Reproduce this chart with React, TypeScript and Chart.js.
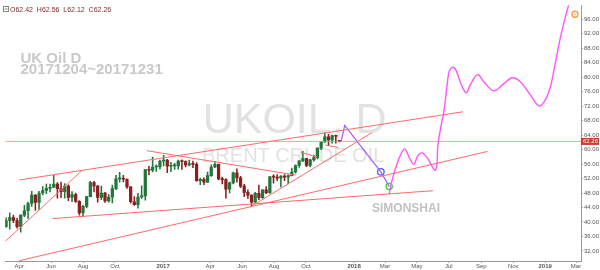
import React, { useEffect, useRef } from "react";
import { Chart, registerables } from "chart.js";
Chart.register(...registerables);

const FONT = "'Liberation Sans', Arial, sans-serif";
const DAY0 = Date.UTC(2016, 0, 1);
const day = (s: string) => (Date.parse(s + "T00:00:00Z") - DAY0) / 86400000;

// ---- Weekly candles (week starting 2016-03-07), last one is the 2017-12-04 daily bar
const firstWeek = "2016-03-07";
const opens = [
  38.7, 40.4, 41.2, 40.4, 38.7, 41.9, 43.1, 45.1, 47.4, 45.4, 48.0, 48.7, 49.3, 49.6, 50.5, 49.2, 48.4, 49.9,
  46.8, 47.6, 45.7, 42.5, 44.3, 47.0, 50.9, 49.9, 46.8, 48.0, 45.8, 46.9, 49.2, 51.9, 51.9, 51.8, 49.7, 45.6,
  44.8, 46.9, 47.2, 54.5, 54.3, 55.2, 55.2, 56.8, 57.1, 55.4, 55.5, 55.5, 56.8, 56.7, 55.8, 56.0, 55.9, 51.4,
  51.8, 51.0, 52.8, 55.2, 55.9, 51.9, 51.7, 49.1, 50.8, 53.6, 52.2, 49.9, 48.2, 47.4, 45.5, 47.9, 46.7, 48.9,
  48.1, 52.5, 52.4, 52.1, 52.7, 52.4, 52.8, 53.8, 55.6, 56.9, 57.5, 55.6, 57.2, 57.8, 60.4, 62.1, 63.5, 62.7,
  63.9, 62.42,
];
const highs = [
  41.2, 42.5, 41.9, 41.0, 42.0, 44.6, 45.5, 48.5, 47.6, 48.5, 49.8, 50.5, 50.5, 52.9, 50.9, 51.0, 50.6, 50.3,
  48.4, 48.0, 45.9, 44.6, 47.1, 51.2, 51.2, 50.1, 49.9, 48.2, 47.6, 50.2, 52.9, 53.7, 52.9, 51.9, 49.8, 47.0,
  47.9, 50.0, 54.5, 55.4, 57.9, 55.8, 57.1, 58.4, 57.3, 56.5, 56.2, 57.1, 57.2, 56.9, 57.1, 56.8, 56.4, 52.1,
  52.2, 53.8, 55.8, 56.7, 56.0, 52.4, 52.0, 51.0, 53.8, 54.7, 52.6, 50.4, 48.9, 47.5, 48.2, 50.2, 48.9, 49.8,
  52.6, 53.0, 53.1, 52.8, 53.1, 53.0, 54.9, 55.8, 57.0, 59.5, 57.6, 57.4, 58.5, 60.5, 62.2, 64.6, 64.2, 64.0,
  64.0, 62.56,
];
const lows = [
  38.5, 38.0, 39.8, 38.3, 37.2, 41.5, 41.0, 44.3, 43.2, 43.5, 47.5, 47.8, 48.3, 49.5, 46.6, 46.7, 46.6, 45.9,
  45.6, 45.4, 41.9, 41.5, 43.9, 46.9, 48.3, 45.5, 46.2, 45.4, 45.5, 45.3, 48.9, 51.0, 51.1, 49.3, 45.2, 44.6,
  43.8, 46.5, 46.0, 53.0, 53.8, 54.0, 54.6, 55.5, 53.6, 53.9, 54.5, 54.6, 54.5, 55.2, 55.5, 55.0, 51.2, 50.3,
  50.3, 50.9, 52.6, 55.0, 51.6, 50.5, 46.6, 48.0, 50.5, 51.0, 49.5, 47.0, 46.5, 44.4, 45.4, 46.2, 46.5, 47.8,
  47.9, 50.7, 51.4, 49.7, 51.4, 50.5, 52.7, 53.5, 55.1, 56.7, 55.3, 55.2, 56.8, 57.4, 60.0, 62.0, 61.1, 61.8,
  61.8, 62.12,
];
const closes = [
  40.4, 41.2, 40.4, 38.7, 41.9, 43.1, 45.1, 47.4, 45.4, 48.0, 48.7, 49.3, 49.6, 50.5, 49.2, 48.4, 49.9, 46.8,
  47.6, 45.7, 42.5, 44.3, 47.0, 50.9, 49.9, 46.8, 48.0, 45.8, 46.9, 49.2, 51.9, 51.9, 51.8, 49.7, 45.6, 44.8,
  46.9, 47.2, 54.5, 54.3, 55.2, 55.2, 56.8, 57.1, 55.4, 55.5, 55.5, 56.8, 56.7, 55.8, 56.0, 55.9, 51.4, 51.8,
  51.0, 52.8, 55.2, 55.9, 51.9, 51.7, 49.1, 50.8, 53.6, 52.2, 49.9, 48.2, 47.4, 45.5, 47.9, 46.7, 48.9, 48.1,
  52.5, 52.4, 52.1, 52.7, 52.4, 52.8, 53.8, 55.6, 56.9, 57.5, 55.6, 57.2, 57.8, 60.4, 62.1, 63.5, 62.7, 63.9,
  63.7, 62.26,
];

// ---- Axis ticks
const tickDates = [
  "2016-04-01", "2016-06-01", "2016-08-01", "2016-10-01", "2017-01-01", "2017-04-01", "2017-06-01",
  "2017-08-01", "2017-10-01", "2018-01-01", "2018-03-01", "2018-05-01", "2018-07-01", "2018-09-01",
  "2018-11-01", "2019-01-01", "2019-03-01",
];
const tickLabels = [
  "Apr", "Jun", "Aug", "Oct", "2017", "Apr", "Jun", "Aug", "Oct", "2018", "Mar", "May", "Jul", "Sep",
  "Nov", "2019", "Mar",
];
const priceTicks = [32, 36, 40, 44, 48, 52, 56, 60, 64, 68, 72, 76, 80, 84, 88, 92, 96];

// ---- Drawings
type P = [string, number];
const trendLines: P[][] = [
  [["2016-04-01", 51.6], ["2018-07-28", 70.45]],
  [["2016-04-01", 29.3], ["2018-09-13", 59.5]],
  [["2016-06-04", 40.94], ["2018-06-01", 48.65]],
  [["2016-03-05", 34.6], ["2016-07-29", 54.1]],
  [["2016-12-01", 59.7], ["2017-09-11", 52.96]],
  [["2017-06-16", 44.1], ["2018-02-04", 64.68]],
  [["2017-09-21", 59.26], ["2017-10-23", 57.9]],
  [["2017-11-07", 61.24], ["2017-12-02", 60.6]],
];
const purplePath: P[] = [
  ["2017-12-07", 62.15], ["2017-12-14", 66.66], ["2018-02-21", 53.85], ["2018-03-09", 49.79],
];
const magentaPath: P[] = [
  ["2018-03-09", 47.7], ["2018-03-13", 50.68], ["2018-03-23", 55.66], ["2018-04-02", 59.26],
  ["2018-04-08", 60.16], ["2018-04-16", 57.91], ["2018-04-25", 55.93], ["2018-05-03", 58.37],
  ["2018-05-11", 59.08], ["2018-05-22", 57.45], ["2018-06-04", 54.31], ["2018-06-08", 55.66],
  ["2018-06-10", 61.08], ["2018-06-16", 66.49], ["2018-06-22", 70.99], ["2018-06-28", 78.21],
  ["2018-07-02", 81.81], ["2018-07-09", 82.74], ["2018-07-15", 81.81], ["2018-07-24", 78.21],
  ["2018-08-03", 75.7], ["2018-08-12", 78.21], ["2018-08-25", 80.73], ["2018-09-06", 78.67],
  ["2018-09-25", 76.24], ["2018-10-14", 78.21], ["2018-10-30", 79.84], ["2018-11-15", 78.67],
  ["2018-12-04", 75.05], ["2018-12-20", 72.07], ["2019-01-01", 73.69], ["2019-01-11", 77.32],
  ["2019-01-20", 83.63], ["2019-01-30", 90.86], ["2019-02-08", 96.27], ["2019-02-16", 100.5],
];
const blueMark: P = ["2018-02-21", 53.85];
const greenMark: P = ["2018-03-09", 49.79];
const orangeMark: P = ["2019-02-27", 97.4];

const symbolTitle = "UKOIL, D";
const symbolSubtitle = "BRENT CRUDE OIL";
const noteTitle = "UK Oil D";
const notePeriod = "20171204~20171231";
const author = "SIMONSHAI";

const X_MIN = 64.5;
const X_MAX = 1164.5;
const Y_MIN = 29.22;
const Y_MAX = 99.87;

const UP = "#21773a";
const DOWN = "#8a1f1f";
const TREND = "#ff6a6a";

const pts = (arr: P[]) => arr.map(([d, v]) => ({ x: day(d), y: v }));

const watermarkPlugin = {
  id: "watermark",
  beforeDatasetsDraw(chart: any) {
    const { ctx, chartArea } = chart;
    const cx = (chartArea.left + chartArea.right) / 2;
    ctx.save();
    ctx.fillStyle = "#e2e2e2";
    ctx.textAlign = "center";
    ctx.textBaseline = "alphabetic";
    ctx.font = `43px ${FONT}`;
    ctx.fillText(symbolTitle, cx + 1.5, 133.3);
    ctx.font = `20px ${FONT}`;
    ctx.fillText(symbolSubtitle, cx, 161.7);
    ctx.textAlign = "left";
    ctx.fillStyle = "#c9c9c9";
    ctx.font = `bold 15px ${FONT}`;
    ctx.fillText(noteTitle, 20.5, 63.3);
    ctx.fillText(notePeriod, 20.5, 74.3);
    ctx.fillStyle = "#c2c2c2";
    ctx.font = `bold 12px ${FONT}`;
    ctx.fillText(author, 372, 211.7);
    ctx.restore();
  },
  afterDraw(chart: any) {
    const { ctx, scales } = chart;
    const last = closes.length - 1;
    ctx.save();
    // legend box icon
    ctx.strokeStyle = "#888";
    ctx.lineWidth = 1;
    ctx.strokeRect(3.5, 6.5, 5, 5);
    ctx.beginPath();
    ctx.moveTo(4.5, 9);
    ctx.lineTo(7.5, 9);
    ctx.stroke();
    ctx.fillStyle = "#7d2a2a";
    ctx.font = `7px ${FONT}`;
    ctx.textBaseline = "middle";
    ctx.textAlign = "left";
    const txt = `O${opens[last].toFixed(2)}  H${highs[last].toFixed(2)}  L${lows[last].toFixed(2)}  C${closes[last].toFixed(2)}`;
    ctx.fillText(txt, 10, 9.8);
    // last price label
    const y = scales.y.getPixelForValue(closes[last]);
    ctx.fillStyle = "#d3382e";
    ctx.fillRect(581, y - 3.5, 18, 7);
    ctx.fillStyle = "#fff";
    ctx.font = `6px ${FONT}`;
    ctx.fillText(closes[last].toFixed(2), 583, y + 0.3);
    ctx.restore();
  },
};

export default function App() {
  const ref = useRef<HTMLCanvasElement | null>(null);
  useEffect(() => {
    document.body.style.margin = "0";
    if (!ref.current) return;
    const xs = opens.map((_, i) => day(firstWeek) + 7 * i);
    const colors = opens.map((o, i) => (closes[i] >= o ? UP : DOWN));
    const last = closes.length - 1;
    const lineDs = (data: any[], color: string, width = 1, extra: any = {}) => ({
      type: "line",
      data,
      borderColor: color,
      borderWidth: width,
      pointRadius: 0,
      fill: false,
      tension: 0,
      order: 0,
      ...extra,
    });
    const markDs = (p: P, color: string, r: number) => ({
      type: "line",
      data: pts([p]),
      showLine: false,
      pointRadius: r,
      pointBorderColor: color,
      pointBackgroundColor: "rgba(0,0,0,0)",
      pointBorderWidth: 1.3,
      order: 0,
    });
    const chart = new Chart(ref.current, {
      type: "bar",
      data: {
        datasets: [
          {
            type: "bar",
            data: xs.map((x, i) => ({ x, y: [lows[i], highs[i]] })),
            backgroundColor: colors,
            barThickness: 0.9,
            grouped: false,
            borderWidth: 0,
            order: 11,
          } as any,
          {
            type: "bar",
            data: xs.map((x, i) => ({ x, y: [opens[i], closes[i]] })),
            backgroundColor: colors,
            barThickness: 2.6,
            grouped: false,
            borderWidth: 0,
            minBarLength: 1,
            order: 10,
          } as any,
          lineDs(
            [
              { x: X_MIN, y: closes[last] },
              { x: X_MAX, y: closes[last] },
            ],
            "rgba(232,130,130,0.75)",
            1
          ),
          ...trendLines.map((l) => lineDs(pts(l), TREND, 1)),
          lineDs(pts(purplePath), "#a05cff", 1.2),
          lineDs(pts(magentaPath), "#ff55ff", 1.4, { tension: 0.35 }),
          markDs(blueMark, "#4d5cff", 3.3),
          markDs(greenMark, "#2fdc2f", 3.1),
          markDs(orangeMark, "#ff9a3a", 3),
          {
            type: "line",
            data: pts([orangeMark]),
            showLine: false,
            pointRadius: 0.8,
            pointBorderWidth: 0,
            pointBackgroundColor: "#ff9a3a",
            order: 0,
          } as any,
        ] as any,
      },
      options: {
        animation: false,
        responsive: false,
        maintainAspectRatio: false,
        layout: { padding: 0 },
        plugins: { legend: { display: false }, tooltip: { enabled: false } },
        events: [],
        scales: {
          x: {
            type: "linear",
            min: X_MIN,
            max: X_MAX,
            offset: false,
            position: "bottom",
            afterBuildTicks: (s: any) => {
              s.ticks = tickDates.map((d) => ({ value: day(d) }));
            },
            afterFit: (s: any) => {
              s.height = 9;
              s.paddingLeft = 0;
              s.paddingRight = 0;
            },
            ticks: {
              autoSkip: false,
              maxRotation: 0,
              minRotation: 0,
              padding: 0,
              color: "#555",
              font: (ctx: any) => ({
                size: 6,
                family: FONT,
                weight: /^\d{4}$/.test(tickLabels[ctx.index] || "") ? "bold" : "normal",
              }),
              callback: (_v: any, i: number) => tickLabels[i],
            },
            grid: { drawOnChartArea: false, offset: false, tickLength: 2, color: "#aaa" },
            border: { color: "#999" },
          },
          y: {
            type: "linear",
            position: "right",
            min: Y_MIN,
            max: Y_MAX,
            afterBuildTicks: (s: any) => {
              s.ticks = priceTicks.map((v) => ({ value: v }));
            },
            afterFit: (s: any) => {
              s.width = 19;
              s.paddingTop = 0;
              s.paddingBottom = 0;
            },
            ticks: {
              padding: 1,
              color: "#555",
              font: { size: 6, family: FONT },
              callback: (v: any) => Number(v).toFixed(2),
            },
            grid: { drawOnChartArea: false, tickLength: 2, color: "#aaa" },
            border: { color: "#999" },
          },
        },
      } as any,
      plugins: [watermarkPlugin],
    });
    return () => chart.destroy();
  }, []);
  return (
    <div style={{ width: 600, height: 270, background: "#fff" }}>
      <canvas ref={ref} width={600} height={270} style={{ display: "block" }} />
    </div>
  );
}
